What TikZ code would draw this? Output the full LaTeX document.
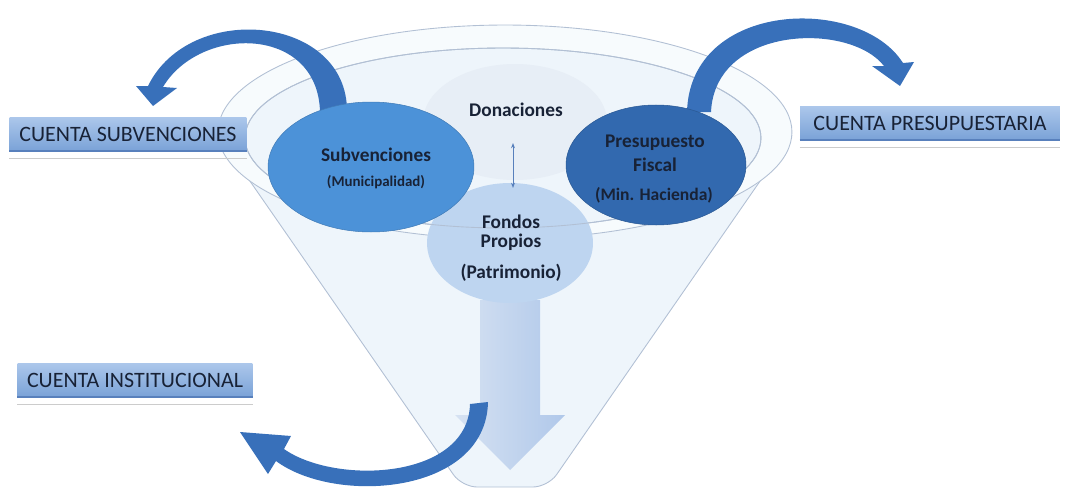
\documentclass[tikz,border=0pt]{standalone}
\usepackage{fontspec}
\setmainfont{Carlito}
\usetikzlibrary{shapes.geometric}
\usetikzlibrary{arrows.meta}

\definecolor{funnelFill}{RGB}{238,245,251}
\definecolor{rimFill}{RGB}{247,251,253}
\definecolor{rimLine}{RGB}{178,192,212}
\definecolor{donFill}{RGB}{231,238,246}
\definecolor{fonFill}{RGB}{190,213,240}
\definecolor{subFill}{RGB}{76,146,216}
\definecolor{preFill}{RGB}{50,105,175}
\definecolor{bandFill}{RGB}{56,112,186}
\definecolor{boxTop}{RGB}{172,199,235}
\definecolor{boxBottom}{RGB}{122,162,215}
\definecolor{boxEdge}{RGB}{88,128,188}
\definecolor{textDark}{RGB}{24,34,54}
\definecolor{downLeft}{RGB}{214,226,242}
\definecolor{downRight}{RGB}{176,200,234}

\begin{document}
\begin{tikzpicture}
[x=0.02cm,y=-0.02cm,%
  rimDecorate/.style={draw=rimLine,line width=0.5pt},%
  ellDecorate/.style={shape=ellipse,inner sep=0pt},%
  bandDecorate/.style={fill=bandFill,draw=none},%
  textDecorate/.style={inner sep=0pt,text=textDark},%
  boxDecorate/.style={shape=rectangle,inner sep=0pt,minimum height=0.68cm,top color=boxTop,bottom color=boxBottom,text=textDark,font=\fontsize{12.5}{14}\selectfont},%
  shadowDecorate/.style={draw=black!20,line width=0.8pt},%
  dblArrow/.style={{Stealth[length=3pt]}-{Stealth[length=3pt]},draw=boxEdge,line width=0.5pt}]
\useasboundingbox (0,0) rectangle (1065,490);
%% funnel body and rim
\draw[rimDecorate,fill=funnelFill,rounded corners=0.3cm]
  (218,135) -- (462,487) -- (548,487) -- (792,135);
\draw[rimDecorate,fill=rimFill] (505,132) ellipse [x radius=5.74cm,y radius=2.14cm];
\draw[rimDecorate,fill=funnelFill] (503,138) ellipse [x radius=5.16cm,y radius=1.8cm];
%% big arrow out of the funnel
\shade[left color=downLeft,right color=downRight]
  (480,300) -- (540,300) -- (540,415) -- (565,415) -- (510,470) -- (455,415) -- (480,415) -- cycle;
%% inner circles
\node[ellDecorate,fill=donFill,minimum width=3.68cm,minimum height=2.32cm] (don) at (515,122) {};
\node[ellDecorate,fill=fonFill,minimum width=3.32cm,minimum height=2.4cm] (fon) at (510,243) {};
\draw[rimDecorate] (503,138) ellipse [x radius=5.16cm,y radius=1.8cm];
%% curved arrows
\fill[bandDecorate] (347,112) .. controls (348,15) and (190,0) .. (148,86)
  -- (136,86) -- (153,106) -- (177,88) -- (163,87)
  .. controls (200,25) and (318,25) .. (320,112) -- cycle;
\fill[bandDecorate] (687,112) .. controls (690,0) and (860,-5) .. (903,63)
  -- (914,62) -- (900,86) -- (872,66) -- (884,66)
  .. controls (850,22) and (715,25) .. (711,112) -- cycle;
\fill[bandDecorate] (488,402) .. controls (486,495) and (335,505) .. (276,461)
  -- (268,474) -- (240,432) -- (291,436) -- (284,449)
  .. controls (335,485) and (468,480) .. (470,404) -- cycle;
%% outer circles
\node[ellDecorate,fill=subFill,draw=subFill!85!black,line width=0.3pt,minimum width=4.12cm,minimum height=2.6cm] (sub) at (371,167) {};
\node[ellDecorate,fill=preFill,draw=preFill!85!black,line width=0.3pt,minimum width=3.6cm,minimum height=2.4cm] (pre) at (656,165) {};
%% circle labels
\foreach \name/\x/\y/\size/\txt in {
  tSub/376/155/11/Subvenciones, tMun/376/182/8.5/(Municipalidad),
  tDon/516/110/11/Donaciones,
  tPre/655/143/11/Presupuesto, tFis/655/165/11/Fiscal, tMin/654/195/10/(Min. Hacienda),
  tFon/511/222/11/Fondos, tPro/511/242/11/Propios, tPat/511/273/11/(Patrimonio)}
{
  \node[textDecorate,font=\fontsize{\size}{\size}\selectfont\bfseries] (\name) at (\x,\y) {\txt};
}
\coordinate (arrTop) at (513,143);
\coordinate (arrBot) at (513,188);
\draw[dblArrow] (arrTop) -- (arrBot);
%% account boxes
\foreach \name/\x/\y/\w/\txt in {
  cSub/128/134/4.74/CUENTA SUBVENCIONES,
  cPre/930/123/5.2/CUENTA PRESUPUESTARIA,
  cIns/135/380/4.7/CUENTA INSTITUCIONAL}
{
  \node[boxDecorate,minimum width=\w cm] (\name) at (\x,\y) {\txt};
  \draw[draw=boxEdge,line width=1pt] (\name.south west) -- (\name.south east);
  \draw[shadowDecorate] ([yshift=-4pt]\name.south west) -- ([yshift=-4pt]\name.south east);
}
\end{tikzpicture}
\end{document}
